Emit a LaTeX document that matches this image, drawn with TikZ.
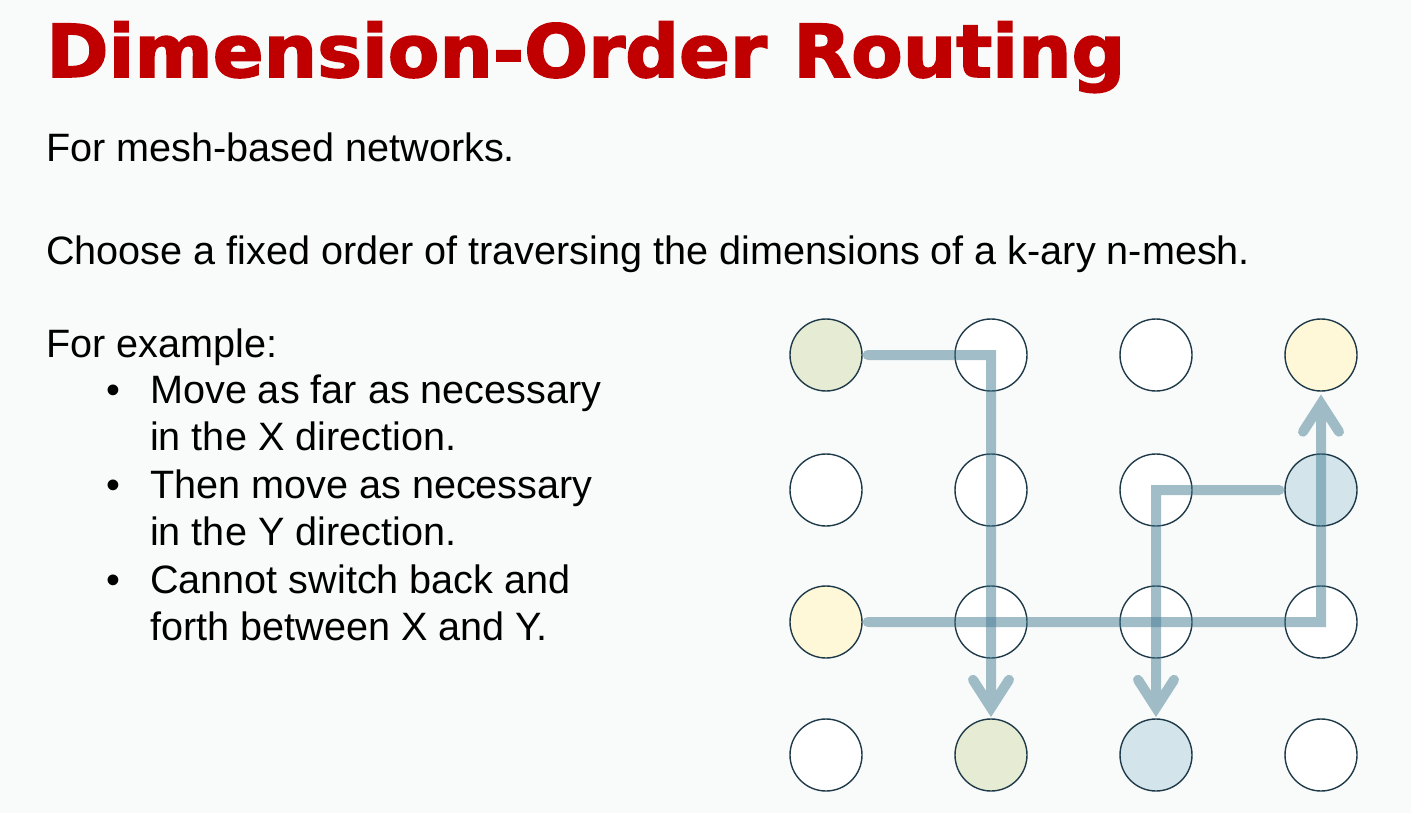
\documentclass[tikz,border=0pt]{standalone}
\usepackage{fontspec}
\setmainfont{Liberation Sans}
\newfontfamily\titlefont[FakeBold=2.2]{DejaVu Sans Bold}
\usetikzlibrary{calc}
\definecolor{bgc}{HTML}{F9FBFB}
\definecolor{titlered}{HTML}{C00000}
\definecolor{ringc}{HTML}{1E3A48}
\definecolor{olivec}{HTML}{E6EBD3}
\definecolor{yellowc}{HTML}{FEF8D8}
\definecolor{bluec}{HTML}{D3E4EA}
\definecolor{routec}{RGB}{69,125,147}
\tikzset{
  mnode/.style={circle, draw=ringc, line width=1.4pt, minimum size=72pt, inner sep=0pt, fill=white},
  route/.style={draw=routec, draw opacity=0.5, line width=10pt, line cap=round, line join=miter},
  txt/.style={anchor=base west, inner sep=0pt, font=\fontsize{39.6}{47}\selectfont},
  bul/.style={anchor=base west, inner sep=0pt, font=\fontsize{39.6}{47}\selectfont}
}
\begin{document}
\begin{tikzpicture}[x=1pt,y=-1pt]
\fill[bgc] (0,0) rectangle (1411,813);
\useasboundingbox (0,0) rectangle (1411,813);
\node[anchor=base west, inner sep=0pt, text=titlered, font=\titlefont\fontsize{73}{80}\selectfont] (title) at (46,77) {\scalebox{1.03}[1]{Dimension-Order Routing}};
\node[txt] (l1) at (46,162) {For mesh-based networks.};
\node[txt] (l2) at (46,264) {Choose a fixed order of traversing the dimensions of a k-ary n-mesh.};
\node[txt] (l3) at (46,357) {For example:};
\node[bul] (b1) at (106,403) {•};
\node[txt] (t1) at (150,403) {Move as far as necessary};
\node[txt] (t1b) at (150,450) {in the X direction.};
\node[bul] (b2) at (106,498) {•};
\node[txt] (t2) at (150,498) {Then move as necessary};
\node[txt] (t2b) at (150,545) {in the Y direction.};
\node[bul] (b3) at (106,593) {•};
\node[txt] (t3) at (150,593) {Cannot switch back and};
\node[txt] (t3b) at (150,640) {forth between X and Y.};
% mesh
\node[mnode, fill=olivec] (n11) at (826,355) {};
\node[mnode] (n12) at (991,355) {};
\node[mnode] (n13) at (1156,355) {};
\node[mnode, fill=yellowc] (n14) at (1321,355) {};
\node[mnode] (n21) at (826,490) {};
\node[mnode] (n22) at (991,490) {};
\node[mnode] (n23) at (1156,490) {};
\node[mnode, fill=bluec] (n24) at (1321,490) {};
\node[mnode, fill=yellowc] (n31) at (826,622) {};
\node[mnode] (n32) at (991,622) {};
\node[mnode] (n33) at (1156,622) {};
\node[mnode] (n34) at (1321,622) {};
\node[mnode] (n41) at (826,755) {};
\node[mnode, fill=olivec] (n42) at (991,755) {};
\node[mnode, fill=bluec] (n43) at (1156,755) {};
\node[mnode] (n44) at (1321,755) {};
% route 1: n11 -> n42
\coordinate (s1) at ($(n11.east)+(5,0)$);
\coordinate (v1) at ($(n42.north)+(0,-10.5)$);
\coordinate (v1l) at ($(v1)+(-18,-28)$);
\coordinate (v1r) at ($(v1)+(18,-28)$);
\path[route] (s1) -- (s1 -| n12.center) -- (v1) (v1l) -- (v1) -- (v1r);
% route 2: n31 -> n14
\coordinate (s2) at ($(n31.east)+(5,0)$);
\coordinate (v2) at ($(n14.south)+(0,12)$);
\coordinate (v2l) at ($(v2)+(-18,28)$);
\coordinate (v2r) at ($(v2)+(18,28)$);
\path[route] (s2) -- (s2 -| n34.center) -- (v2) (v2l) -- (v2) -- (v2r);
% route 3: n24 -> n43
\coordinate (s3) at ($(n24.west)+(-5,0)$);
\coordinate (v3) at ($(n43.north)+(0,-10.5)$);
\coordinate (v3l) at ($(v3)+(-18,-28)$);
\coordinate (v3r) at ($(v3)+(18,-28)$);
\path[route] (s3) -- (s3 -| n23.center) -- (v3) (v3l) -- (v3) -- (v3r);
\end{tikzpicture}
\end{document}
